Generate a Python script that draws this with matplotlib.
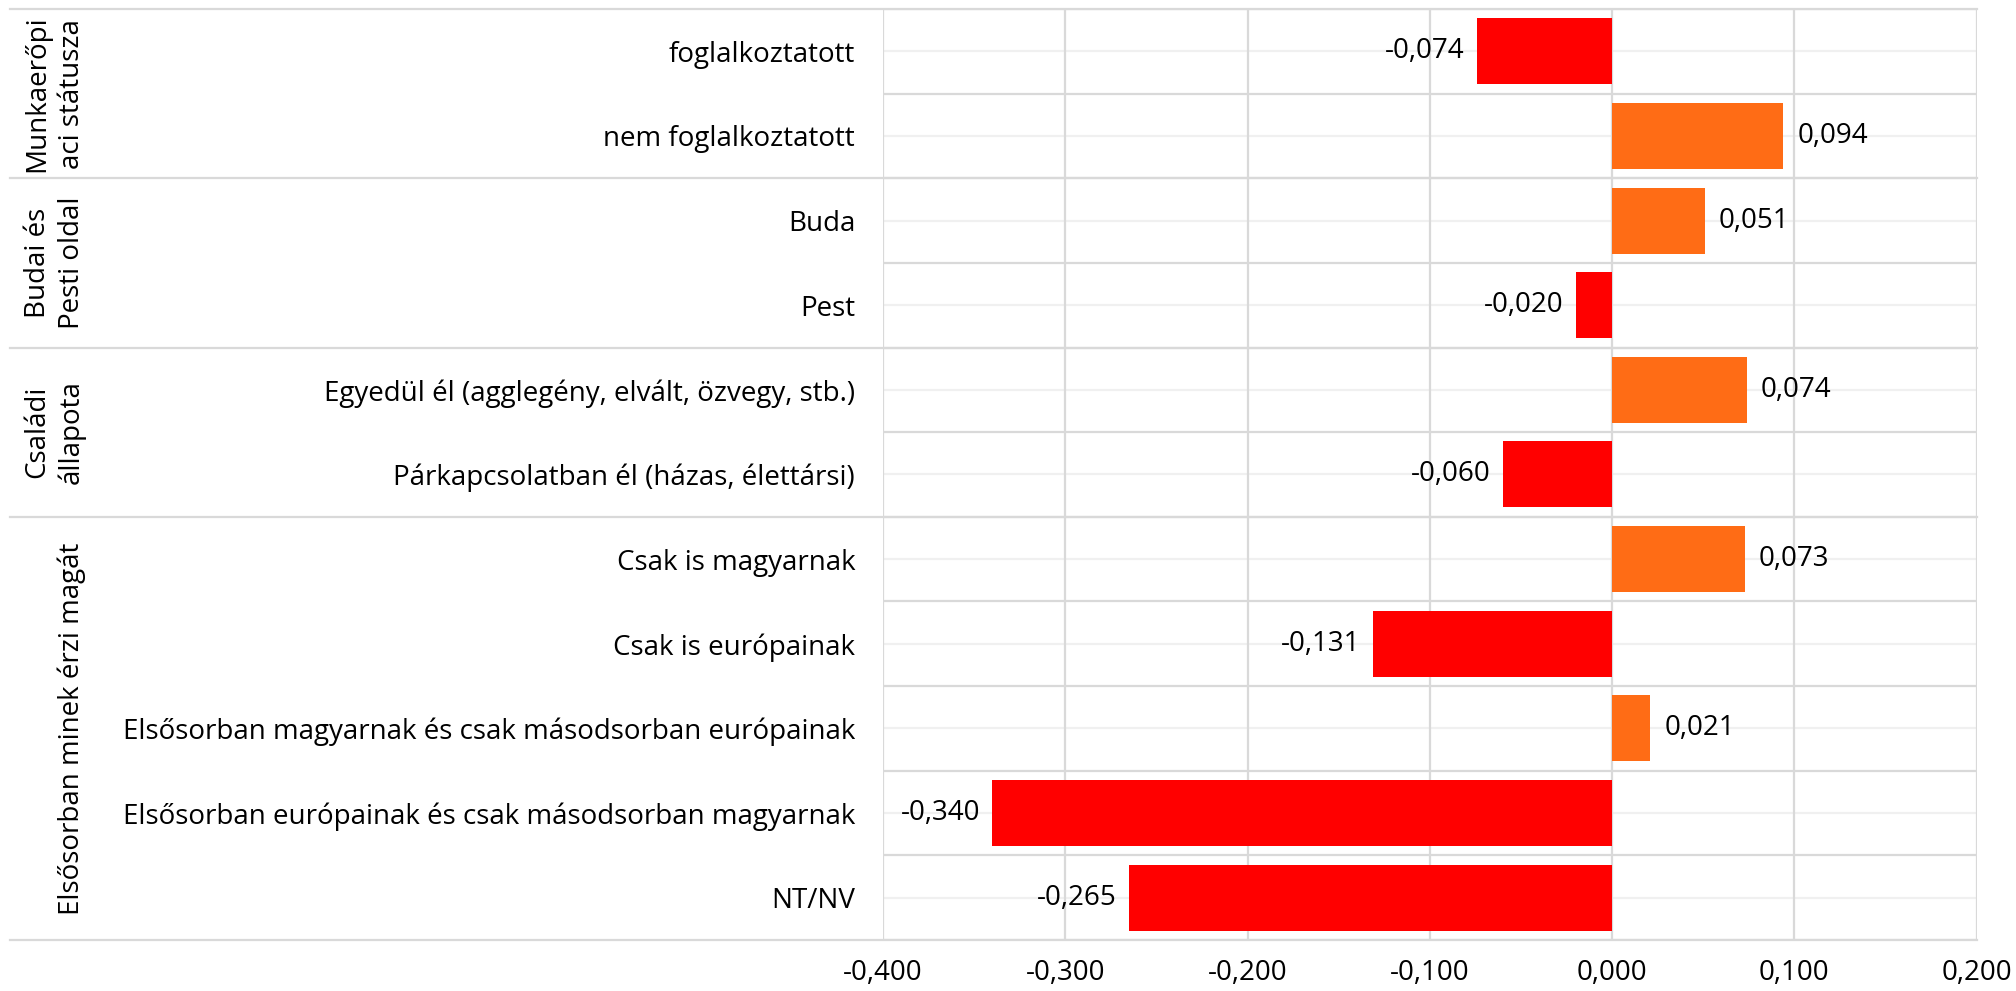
import matplotlib
matplotlib.use("Agg")
import matplotlib.pyplot as plt
import matplotlib.transforms as mtrans
import numpy as np

# データ
groups = ["Munkaerőpi\naci státusza", "Budai és\nPesti oldal", "Családi\nállapota",
          "Elsősorban minek érzi magát"]
group_sizes = [2, 2, 2, 5]
categories = ["foglalkoztatott", "nem foglalkoztatott",
              "Buda", "Pest",
              "Egyedül él (agglegény, elvált, özvegy, stb.)",
              "Párkapcsolatban él (házas, élettársi)",
              "Csak is magyarnak", "Csak is európainak",
              "Elsősorban magyarnak és csak másodsorban európainak",
              "Elsősorban európainak és csak másodsorban magyarnak",
              "NT/NV"]
values = [-0.074, 0.094, 0.051, -0.020, 0.074, -0.060,
          0.073, -0.131, 0.021, -0.340, -0.265]
xticks = [-0.4, -0.3, -0.2, -0.1, 0.0, 0.1, 0.2]

# 書式
plt.rcParams['font.family'] = ['Open Sans', 'DejaVu Sans']
grid_c = '#D9D9D9'
minor_c = '#F0F0F0'
neg_c = '#FF0000'
pos_c = '#FF6C15'
fs_cat = 20
fs_num = 20

fig = plt.figure(figsize=(20.16, 9.91), dpi=100)
ax = fig.add_axes([0.438, 0.0515, 0.5425, 0.9394])

y = np.arange(len(categories))
colors = [neg_c if v < 0 else pos_c for v in values]
ax.barh(y, values, height=0.78, color=colors, zorder=3)

ax.set_ylim(len(categories) - 0.5, -0.5)
ax.set_xlim(-0.4, 0.2)

# グリッド
for xt in xticks:
    ax.axvline(xt, color=grid_c, lw=1.6, zorder=1)
for b in np.arange(-0.5, len(categories), 1.0):
    ax.axhline(b, color=grid_c, lw=1.6, zorder=1)
for c in y:
    ax.axhline(c, color=minor_c, lw=1.6, zorder=0.5)
for s in ax.spines.values():
    s.set_visible(False)

# 軸ラベル
ax.set_xticks(xticks)
ax.set_xticklabels(["{:.3f}".format(t).replace(".", ",") for t in xticks],
                   fontsize=fs_num)
ax.set_yticks(y)
ax.set_yticklabels(categories, fontsize=fs_cat)
ax.tick_params(axis='x', length=0, pad=14)
ax.tick_params(axis='y', length=0, pad=20)

# 値ラベル
for yi, v in zip(y, values):
    txt = "{:.3f}".format(v).replace(".", ",")
    if v < 0:
        ax.annotate(txt, (v, yi), xytext=(-9, 0), textcoords='offset points',
                    ha='right', va='center', fontsize=fs_num)
    else:
        ax.annotate(txt, (v, yi), xytext=(10, 0), textcoords='offset points',
                    ha='left', va='center', fontsize=fs_num)

# グループの区切り線とラベル
ytr = ax.get_yaxis_transform()
gtr = mtrans.blended_transform_factory(fig.transFigure, ax.transData)
x_left = (10 - 883) / (1976.5 - 883)
start = 0
bounds = [-0.5]
for g, n in zip(groups, group_sizes):
    mid = start + (n - 1) / 2.0
    fig.text(86 / 2016, mid, g, transform=gtr, rotation=90, ha='right',
             va='center', multialignment='center', fontsize=fs_cat,
             linespacing=1.3)
    start += n
    bounds.append(start - 0.5)
for b in bounds:
    ax.plot([x_left, 1], [b, b], transform=ytr, color=grid_c, lw=1.6,
            clip_on=False, zorder=1)

fig.savefig("out.png", dpi=100)
